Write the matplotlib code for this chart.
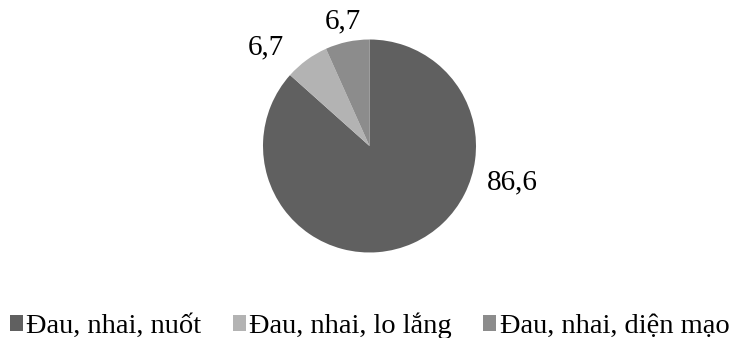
import matplotlib
matplotlib.use("Agg")
import matplotlib.pyplot as plt
from matplotlib.patches import Patch

categories = ["Đau, nhai, nuốt", "Đau, nhai, lo lắng", "Đau, nhai, diện mạo"]
values = [86.6, 6.7, 6.7]
value_labels = ["86,6", "6,7", "6,7"]
colors = ["#606060", "#b3b3b3", "#8c8c8c"]
# label positions in pie-radius units (center = 0,0)
label_pos = [(1.34, -0.34), (-0.97, 0.93), (-0.25, 1.17)]

plt.rcParams["font.family"] = ["Liberation Serif", "DejaVu Serif"]

W, H = 739, 338
fig = plt.figure(figsize=(W / 100, H / 100), dpi=100)
ax = fig.add_axes([0, 0, 1, 1])
cx, cy, R = 369.5, 146.0, 106.5

ax.pie(values, colors=colors, startangle=90, counterclock=False, radius=1,
       wedgeprops=dict(linewidth=0))
ax.set_xlim(-cx / R, (W - cx) / R)
ax.set_ylim(-(H - cy) / R, cy / R)
ax.set_aspect("auto")
ax.axis("off")
for (x, y), t in zip(label_pos, value_labels):
    ax.text(x, y, t, ha="center", va="center", fontsize=21)

handles = [Patch(facecolor=c, edgecolor="none") for c in colors]
fig.legend(handles, categories, loc="center", ncol=3, frameon=False,
           fontsize=20.5, handlelength=0.46, handleheight=0.46, handletextpad=0.12,
           columnspacing=1.1, bbox_to_anchor=(0.5, 1 - 326 / H), borderpad=0,
           borderaxespad=0)

fig.savefig("out.png", dpi=100)
